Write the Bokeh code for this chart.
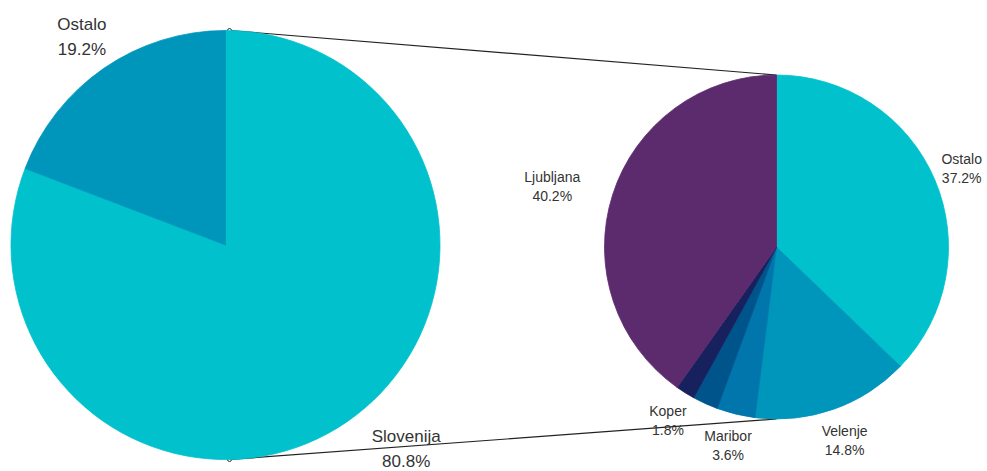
import math
from bokeh.plotting import figure
from bokeh.models import Range1d, ColumnDataSource
from bokeh.core.properties import value
from bokeh.embed import file_html
from bokeh.resources import INLINE

# ---------------- data ----------------
left_labels = ["Slovenija", "Ostalo"]
left_values = [80.8, 19.2]
right_labels = ["Ostalo", "Velenje", "Maribor", "", "Koper", "Ljubljana"]
right_values = [37.2, 14.8, 3.6, 2.4, 1.8, 40.2]

# ---------------- styles / layout ----------------
left_colors = ["#00C1CC", "#0096BC"]
right_colors = ["#00C1CC", "#0096BC", "#0076AC", "#00548C", "#16215E", "#5C2B6E"]

W, H = 987, 471
PAGE_H = H


def Y(py):
    return PAGE_H - py


left_center = (225.0, Y(244.5))
left_R = 214.5
right_center = (776.0, Y(246.5))
right_R = 172.0

# label placement: (radial factor, angle shift in degrees)
left_label_layout = [(1.27, 7.0), (1.18, 0.0)]
right_label_layout = [(1.17, 0.0), (1.19, 0.0), (1.19, 0.0), (1.19, 0.0), (1.19, 0.0), (1.35, 2.6)]

TEXT_COLOR = "#333333"
FONT = value("Liberation Sans")

p = figure(width=W, height=H, output_backend="svg", toolbar_location=None,
           x_range=Range1d(0, W), y_range=Range1d(0, H),
           x_axis_type=None, y_axis_type=None, min_border=0)
p.grid.visible = False
p.outline_line_color = None
p.background_fill_color = "white"
p.border_fill_color = "white"


def pie_geometry(values, center, R, layout):
    total = sum(values)
    starts, ends, lx, ly = [], [], [], []
    cum = 0.0
    for v, (k, shift) in zip(values, layout):
        f0 = cum / total
        f1 = (cum + v) / total
        cum += v
        # clockwise from 12 o'clock
        a_start = math.radians(90.0 - f1 * 360.0)
        a_end = math.radians(90.0 - f0 * 360.0)
        starts.append(a_start)
        ends.append(a_end)
        mid = math.radians(90.0 - (f0 + f1) / 2 * 360.0 + shift)
        lx.append(center[0] + k * R * math.cos(mid))
        ly.append(center[1] + k * R * math.sin(mid))
    return starts, ends, lx, ly


# connector lines (behind pies)
seg = ColumnDataSource(dict(
    x0=[left_center[0] + 4, left_center[0] + 4],
    y0=[left_center[1] + left_R, left_center[1] - left_R],
    x1=[right_center[0], right_center[0]],
    y1=[right_center[1] + right_R, right_center[1] - right_R],
))
p.segment(x0="x0", y0="y0", x1="x1", y1="y1", source=seg, line_color="#222222", line_width=1.2)
p.scatter(x="x0", y="y0", source=seg, size=4, marker="circle",
          fill_color="white", line_color="#333333", line_width=1)

pies = [
    (left_labels, left_values, left_colors, left_center, left_R, left_label_layout, "17px", 12.5),
    (right_labels, right_values, right_colors, right_center, right_R, right_label_layout, "14px", 9.5),
]

for labels, values, colors, center, R, layout, fsize, half_gap in pies:
    starts, ends, lx, ly = pie_geometry(values, center, R, layout)
    src = ColumnDataSource(dict(
        x=[center[0]] * len(values), y=[center[1]] * len(values),
        start=starts, end=ends, color=colors,
    ))
    p.wedge(x="x", y="y", radius=R, start_angle="start", end_angle="end",
            fill_color="color", line_color="color", line_width=0.8, source=src)

    names, pcts, nx, ny, py_ = [], [], [], [], []
    for lab, v, x, y in zip(labels, values, lx, ly):
        if not lab:
            continue
        names.append(lab)
        pcts.append(f"{v:.1f}%")
        nx.append(x)
        ny.append(y + half_gap)
        py_.append(y - half_gap)
    tsrc = ColumnDataSource(dict(x=nx, yn=ny, yp=py_, name=names, pct=pcts))
    p.text(x="x", y="yn", text="name", source=tsrc, text_align="center",
           text_baseline="middle", text_font=FONT, text_font_size=fsize, text_color=TEXT_COLOR)
    p.text(x="x", y="yp", text="pct", source=tsrc, text_align="center",
           text_baseline="middle", text_font=FONT, text_font_size=fsize, text_color=TEXT_COLOR)

open("out.html", "w").write(file_html(p, INLINE))
